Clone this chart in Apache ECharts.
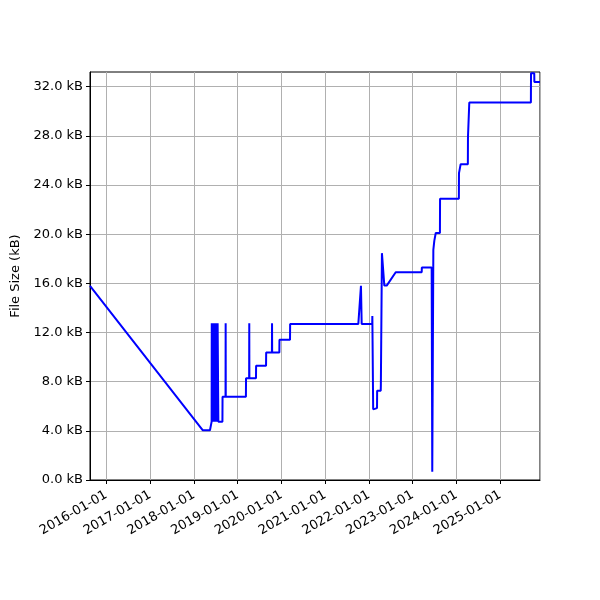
<!DOCTYPE html>
<html><head><meta charset="utf-8">
<script src="https://cdn.jsdelivr.net/npm/echarts@6/dist/echarts.min.js"></script>
<style>html,body{margin:0;padding:0;background:#fff}#c{width:600px;height:600px}</style>
</head><body><div id="c"></div>
<script>
const dates = ['2015-08-18','2018-03-15','2018-05-15','2018-05-29','2018-05-30','2018-06-01','2018-06-02','2018-06-04','2018-06-06','2018-06-08','2018-06-10','2018-06-12','2018-06-14','2018-06-16','2018-06-18','2018-06-20','2018-06-22','2018-06-24','2018-06-26','2018-06-28','2018-06-30','2018-07-02','2018-07-04','2018-07-06','2018-07-08','2018-07-10','2018-07-12','2018-07-14','2018-07-16','2018-07-18','2018-07-20','2018-07-23','2018-07-24','2018-08-27','2018-08-28','2018-09-22','2018-09-23','2018-09-24','2019-03-11','2019-03-12','2019-04-07','2019-04-08','2019-04-09','2019-06-03','2019-06-04','2019-08-26','2019-08-27','2019-10-14','2019-10-15','2019-10-16','2019-12-15','2019-12-16','2020-03-13','2020-03-14','2021-10-04','2021-10-26','2021-11-01','2022-01-28','2022-01-29','2022-02-05','2022-02-08','2022-03-09','2022-03-10','2022-04-09','2022-04-10','2022-04-18','2022-04-19','2022-05-04','2022-05-09','2022-05-29','2022-08-12','2023-03-17','2023-03-18','2023-06-08','2023-06-13','2023-06-22','2023-06-29','2023-06-30','2023-07-11','2023-07-12','2023-08-16','2023-08-17','2024-01-21','2024-01-22','2024-02-04','2024-02-05','2024-04-05','2024-04-06','2024-04-16','2024-04-17','2025-09-13','2025-09-14','2025-10-11','2025-10-12','2025-11-28'];
const sizesKB = [15.8,4.05,4.05,4.75,12.76,12.76,4.75,12.76,4.75,12.76,4.75,12.76,4.75,12.76,4.75,12.76,4.75,12.76,4.75,12.76,4.75,12.76,4.75,12.76,4.75,12.76,4.75,12.76,4.75,12.76,12.76,12.76,4.75,4.75,6.78,6.78,12.76,6.78,6.78,8.28,8.28,12.76,8.28,8.28,9.3,9.3,10.37,10.37,12.76,10.37,10.37,11.42,11.42,12.7,12.7,15.8,12.7,12.7,13.35,5.75,5.85,5.85,7.27,7.27,7.68,7.68,18.46,18.46,15.82,15.82,16.9,16.9,17.29,17.29,0.68,18.73,18.73,19.46,19.46,20.1,20.1,22.88,22.88,24.97,24.97,25.7,25.7,27.9,27.9,30.72,30.72,33.1,33.1,32.38,32.38];
const xMin = '2015-08-18', xMax = '2025-11-28';
const yMin = 0, yMax = 33.2, yStep = 4;
const yTicks = [0,4,8,12,16,20,24,28,32];
const yTitle = 'File Size (kB)';

const data = dates.map((d,i)=>[d, sizesKB[i]]);
const chart = echarts.init(document.getElementById('c'), null, {renderer:'canvas'});
const font = 'DejaVu Sans';
chart.setOption({
  animation:false,
  grid:{left:90,right:60,top:72,bottom:120,show:true,borderColor:'#000',borderWidth:1,backgroundColor:'transparent',outerBoundsMode:'none',containLabel:false},
  xAxis:{
    type:'time', min:xMin, max:xMax,
    minInterval:365*24*3600*1000, maxInterval:366*24*3600*1000,
    axisLine:{show:true,lineStyle:{color:'#000',width:1}},
    axisTick:{show:true,length:4,lineStyle:{color:'#000'}},
    axisLabel:{rotate:30,color:'#000',fontFamily:font,fontSize:13,margin:14,
      showMinLabel:false,showMaxLabel:false,
      formatter:function(v){const d=new Date(v);return d.getFullYear()+'-01-01';}},
    splitLine:{show:true,lineStyle:{color:'#b0b0b0',width:1}}
  },
  yAxis:{
    type:'value', min:yMin, max:yMax, interval:yStep,
    name:yTitle, nameLocation:'middle', nameGap:68, nameRotate:90,
    nameTextStyle:{color:'#000',fontFamily:font,fontSize:13},
    axisLine:{show:true,lineStyle:{color:'#000',width:1}},
    axisTick:{show:true,length:4,lineStyle:{color:'#000'},customValues:yTicks},
    axisLabel:{color:'#000',fontFamily:font,fontSize:13,margin:7,customValues:yTicks,
      formatter:function(v){return v.toFixed(1)+' kB';}},
    splitLine:{show:true,lineStyle:{color:'#b0b0b0',width:1}}
  },
  series:[{type:'line',data:data,showSymbol:false,symbol:'none',lineStyle:{color:'#0000ff',width:2},itemStyle:{color:'#0000ff'}}]
});
</script></body></html>
